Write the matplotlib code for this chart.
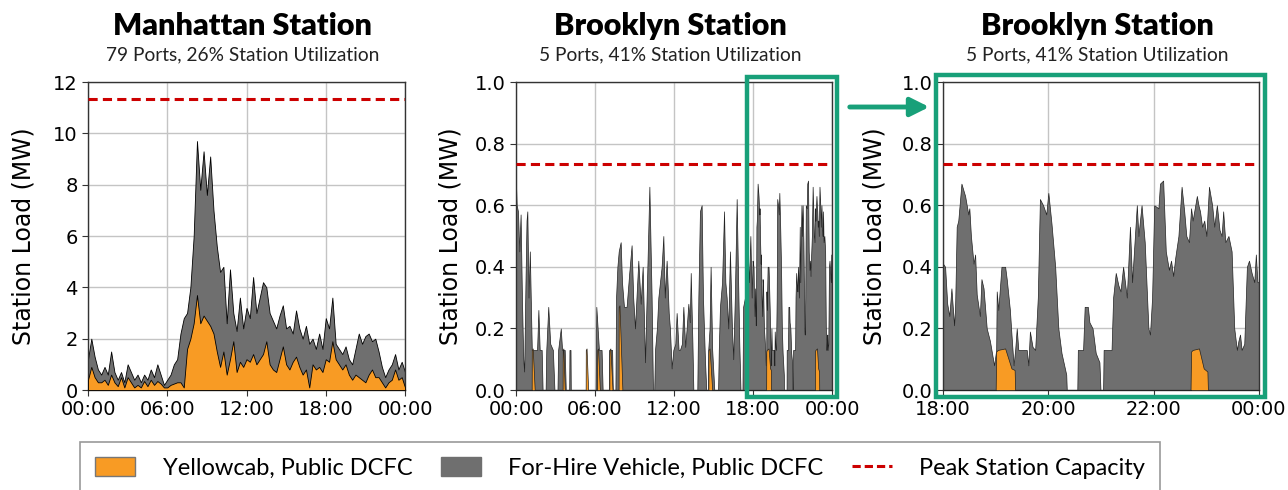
import numpy as np
import matplotlib.pyplot as plt
from matplotlib.patches import Rectangle, FancyArrowPatch, Patch
from matplotlib.lines import Line2D

ORANGE = '#f89b24'
GRAY = '#6f6f6f'
RED = '#cc0000'
GREEN = '#18a079'

# Manhattan station, 15-minute load readings (MW)
manhattan_hours = np.arange(0, 24.01, 0.25)
manhattan_total = [
    1.2, 2.0, 1.3, 0.8, 0.6, 0.9, 0.6, 1.5, 0.7, 0.4, 0.7, 0.3,
    1.0, 0.7, 0.4, 0.6, 0.3, 0.6, 0.4, 0.8, 0.5, 1.0, 0.6, 0.2,
    0.4, 0.6, 1.0, 1.2, 2.2, 2.8, 3.0, 4.0, 6.0, 9.7, 7.8, 9.3,
    7.6, 9.1, 7.0, 5.6, 4.6, 4.8, 2.6, 4.7, 3.0, 2.3, 3.6, 2.4,
    3.2, 2.8, 4.4, 3.0, 3.6, 4.2, 4.0, 3.0, 2.7, 2.4, 2.9, 3.3,
    2.4, 2.5, 2.2, 3.1, 2.4, 2.0, 2.5, 1.8, 2.0, 1.6, 2.2, 1.6,
    2.8, 2.4, 3.6, 1.8, 1.6, 1.4, 1.7, 1.2, 1.0, 1.6, 2.2, 1.8,
    2.1, 2.2, 1.9, 2.0, 1.5, 0.9, 0.5, 0.8, 1.0, 1.4, 0.8, 1.1,
    0.7]
manhattan_yellow = [
    0.4, 0.9, 0.5, 0.3, 0.3, 0.4, 0.2, 0.6, 0.3, 0.15, 0.5, 0.1,
    0.5, 0.3, 0.1, 0.2, 0.1, 0.35, 0.15, 0.4, 0.2, 0.35, 0.25, 0.1,
    0.1, 0.2, 0.25, 0.3, 0.3, 0.1, 1.6, 2.0, 2.6, 3.7, 2.6, 2.9,
    2.7, 2.5, 2.2, 1.5, 0.9, 1.5, 0.6, 1.2, 1.9, 0.7, 1.1, 0.9,
    1.2, 1.1, 1.4, 1.0, 1.2, 1.4, 1.9, 1.0, 0.8, 0.7, 1.2, 1.7,
    1.0, 0.8, 1.1, 1.3, 0.9, 0.6, 0.8, 0.1, 1.0, 0.8, 0.9, 0.7,
    1.2, 1.1, 1.9, 1.2, 1.0, 0.8, 1.0, 0.6, 0.4, 0.6, 0.5, 0.4,
    0.3, 0.6, 0.8, 0.5, 0.5, 0.3, 0.1, 0.3, 0.4, 0.8, 0.4, 0.5,
    0.1]
manhattan_capacity = 11.35

# Brooklyn station, total load at irregular times (hours, MW)
brooklyn_hours = [
    0.00, 0.05, 0.15, 0.25, 0.35, 0.45, 0.55, 0.62, 0.72, 0.80, 0.86, 0.95,
    1.05, 1.12, 1.20, 1.45, 1.60, 1.70, 1.80, 1.95, 2.02, 2.25, 2.30, 2.45,
    2.60, 2.80, 2.92, 3.15, 3.20, 3.40, 3.50, 3.70, 3.78, 4.04, 4.06, 4.14,
    4.16, 6.05, 6.10, 6.20, 6.30, 6.50, 6.58, 7.05, 7.08, 7.30, 7.35, 7.55,
    7.60, 7.70, 7.80, 7.95, 8.05, 8.20, 8.40, 8.60, 8.78, 8.90, 9.04, 9.15,
    9.29, 9.47, 9.62, 9.80, 9.95, 10.13, 10.30, 10.40, 10.50, 10.56, 10.70, 10.81,
    11.06, 11.19, 11.30, 11.44, 11.60, 11.69, 11.82, 11.95, 12.10, 12.20, 12.35, 12.45,
    12.60, 12.71, 12.85, 12.96, 13.09, 13.20, 13.27, 13.40, 13.47, 13.77, 13.85, 13.97,
    14.10, 14.20, 14.35, 14.45, 14.58, 14.60, 14.70, 14.78, 14.90, 15.00, 15.06, 15.35,
    15.40, 15.49, 15.65, 15.80, 15.90, 16.00, 16.12, 16.25, 16.40, 16.50, 16.62, 16.76,
    16.85, 16.96, 17.05, 17.20, 17.25, 17.39, 17.50, 17.60, 17.70, 17.80, 17.90, 17.97,
    18.00, 18.04, 18.08, 18.12, 18.16, 18.21, 18.23, 18.26, 18.29, 18.35, 18.42, 18.48,
    18.50, 18.53, 18.58, 18.61, 18.64, 18.70, 18.73, 18.77, 18.83, 18.89, 18.97, 19.01,
    19.02, 19.05, 19.11, 19.18, 19.21, 19.27, 19.30, 19.34, 19.37, 19.40, 19.43, 19.49,
    19.59, 19.62, 19.65, 19.70, 19.75, 19.80, 19.84, 19.90, 19.96, 20.00, 20.06, 20.13,
    20.19, 20.25, 20.34, 20.35, 20.55, 20.56, 20.66, 20.69, 20.75, 20.78, 20.84, 20.90,
    20.97, 20.99, 21.04, 21.05, 21.20, 21.23, 21.28, 21.33, 21.37, 21.42, 21.49, 21.55,
    21.59, 21.68, 21.71, 21.77, 21.83, 21.90, 21.93, 21.97, 22.01, 22.09, 22.12, 22.18,
    22.23, 22.29, 22.33, 22.37, 22.41, 22.47, 22.53, 22.58, 22.62, 22.67, 22.71, 22.74,
    22.77, 22.82, 22.85, 22.88, 22.92, 22.96, 23.00, 23.05, 23.11, 23.15, 23.20, 23.25,
    23.29, 23.32, 23.36, 23.42, 23.48, 23.53, 23.58, 23.61, 23.64, 23.67, 23.72, 23.77,
    23.81, 23.86, 23.91, 23.94, 23.97, 24.00]
brooklyn_total = [
    0.67, 0.60, 0.58, 0.45, 0.57, 0.30, 0.10, 0.06, 0.35, 0.55, 0.58, 0.30,
    0.45, 0.30, 0.13, 0.13, 0.13, 0.26, 0.13, 0.13, 0.00, 0.00, 0.13, 0.27,
    0.15, 0.13, 0.00, 0.00, 0.13, 0.20, 0.13, 0.13, 0.00, 0.00, 0.13, 0.13,
    0.00, 0.00, 0.27, 0.20, 0.13, 0.13, 0.00, 0.00, 0.13, 0.13, 0.00, 0.00,
    0.30, 0.40, 0.45, 0.48, 0.35, 0.27, 0.27, 0.38, 0.47, 0.30, 0.20, 0.30,
    0.42, 0.28, 0.40, 0.09, 0.35, 0.66, 0.30, 0.00, 0.00, 0.13, 0.20, 0.30,
    0.40, 0.50, 0.30, 0.42, 0.25, 0.20, 0.07, 0.13, 0.15, 0.25, 0.13, 0.13,
    0.15, 0.27, 0.14, 0.20, 0.28, 0.22, 0.38, 0.15, 0.00, 0.00, 0.30, 0.58,
    0.60, 0.30, 0.10, 0.00, 0.00, 0.13, 0.20, 0.40, 0.13, 0.05, 0.00, 0.00,
    0.13, 0.27, 0.35, 0.58, 0.35, 0.30, 0.20, 0.45, 0.20, 0.10, 0.30, 0.62,
    0.40, 0.15, 0.00, 0.00, 0.27, 0.30, 0.20, 0.45, 0.35, 0.50, 0.30, 0.42,
    0.41, 0.40, 0.28, 0.24, 0.33, 0.21, 0.27, 0.53, 0.55, 0.67, 0.63, 0.57,
    0.59, 0.50, 0.41, 0.44, 0.31, 0.24, 0.36, 0.33, 0.20, 0.16, 0.08, 0.13,
    0.32, 0.26, 0.40, 0.40, 0.36, 0.26, 0.18, 0.08, 0.13, 0.20, 0.13, 0.13,
    0.13, 0.08, 0.19, 0.14, 0.13, 0.30, 0.62, 0.60, 0.57, 0.64, 0.54, 0.40,
    0.20, 0.12, 0.05, 0.00, 0.00, 0.13, 0.13, 0.27, 0.27, 0.22, 0.20, 0.12,
    0.09, 0.00, 0.00, 0.13, 0.13, 0.30, 0.38, 0.34, 0.32, 0.40, 0.30, 0.53,
    0.35, 0.60, 0.50, 0.60, 0.48, 0.20, 0.18, 0.30, 0.60, 0.59, 0.67, 0.68,
    0.45, 0.39, 0.42, 0.37, 0.43, 0.50, 0.66, 0.58, 0.50, 0.48, 0.59, 0.55,
    0.58, 0.63, 0.60, 0.58, 0.53, 0.55, 0.50, 0.66, 0.60, 0.53, 0.60, 0.52,
    0.50, 0.58, 0.48, 0.50, 0.45, 0.20, 0.13, 0.16, 0.18, 0.13, 0.15, 0.40,
    0.42, 0.38, 0.35, 0.44, 0.35, 0.35]

# Brooklyn yellowcab sessions (hours, MW)
yellow_hours = [
    0.00, 1.19, 1.20, 1.27, 1.42, 3.54, 3.55, 3.60, 3.70, 5.29, 5.30, 5.36,
    5.48, 6.16, 6.17, 6.23, 6.37, 7.09, 7.10, 7.17, 7.33, 7.79, 7.80, 7.86,
    8.08, 14.61, 14.62, 14.70, 14.90, 19.00, 19.01, 19.04, 19.18, 19.30, 19.36, 19.37,
    22.70, 22.71, 22.74, 22.86, 22.95, 23.02, 23.03, 24.00]
yellow_load = [
    0.0, 0.0, 0.13, 0.135, 0.0, 0.0, 0.13, 0.135, 0.0, 0.0, 0.13, 0.135,
    0.0, 0.0, 0.13, 0.135, 0.0, 0.0, 0.13, 0.135, 0.0, 0.0, 0.27, 0.275,
    0.0, 0.0, 0.13, 0.135, 0.0, 0.0, 0.125, 0.13, 0.135, 0.07, 0.065, 0.0,
    0.0, 0.125, 0.13, 0.135, 0.07, 0.06, 0.0, 0.0]
brooklyn_capacity = 0.733

day_ticks = [0, 6, 12, 18, 24]
day_labels = ['00:00', '06:00', '12:00', '18:00', '00:00']
evening_ticks = [18, 20, 22, 24]
evening_labels = ['18:00', '20:00', '22:00', '00:00']

plt.rcParams['font.family'] = 'DejaVu Sans'

fig = plt.figure(figsize=(12.88, 4.9), dpi=100)
W, H = 1288, 490


def add_axes(left, right, top=82, bottom=390):
    return fig.add_axes([left / W, 1 - bottom / H, (right - left) / W, (bottom - top) / H])


def style_axes(ax, xlim, xticks, xlabels, ylim, yticks, yfmt, label_x):
    ax.set_xlim(*xlim)
    ax.set_ylim(*ylim)
    ax.set_xticks(xticks)
    ax.set_xticklabels(xlabels)
    ax.set_yticks(yticks)
    ax.set_yticklabels([yfmt.format(v) for v in yticks])
    ax.tick_params(labelsize=14, length=4, width=0.8, color='#333333')
    ax.grid(True, color='#c4c4c4', linewidth=1.0)
    ax.set_axisbelow(True)
    for s in ax.spines.values():
        s.set_color('#333333')
        s.set_linewidth(1.0)
    ax.set_ylabel('Station Load (MW)', fontsize=17)
    ax.yaxis.set_label_coords(label_x, 0.5)


def titles(ax, title, subtitle):
    bb = ax.get_position()
    cx = bb.x0 + bb.width / 2 - 4 / W
    fig.text(cx, 1 - 35 / H, title, ha='center', va='baseline', fontsize=22,
             fontweight='heavy', family=['Lato', 'DejaVu Sans'])
    fig.text(cx, 1 - 60 / H, subtitle, ha='center', va='baseline', fontsize=13.8,
             family=['Lato', 'DejaVu Sans'], color='#222222')


# Manhattan
ax1 = add_axes(88, 405)
ax1.fill_between(manhattan_hours, 0, manhattan_total, facecolor=GRAY,
                 edgecolor='black', linewidth=0.6, zorder=2)
ax1.fill_between(manhattan_hours, 0, manhattan_yellow, facecolor=ORANGE,
                 edgecolor='black', linewidth=0.6, zorder=3)
ax1.axhline(manhattan_capacity, color=RED, linestyle=(0, (3, 1.7)), linewidth=2.2, zorder=4)
style_axes(ax1, (0, 24), day_ticks, day_labels, (0, 12), [0, 2, 4, 6, 8, 10, 12], '{:d}', -0.167)
titles(ax1, 'Manhattan Station', '79 Ports, 26% Station Utilization')

# Brooklyn, full day and evening close-up
ax2 = add_axes(516, 832)
ax3 = add_axes(943, 1259)
for ax in (ax2, ax3):
    ax.fill_between(brooklyn_hours, 0, brooklyn_total, facecolor=GRAY,
                    edgecolor='#222222', linewidth=0.5, zorder=2)
    ax.fill_between(yellow_hours, 0, yellow_load, facecolor=ORANGE,
                    edgecolor='#222222', linewidth=0.5, zorder=3)
    ax.axhline(brooklyn_capacity, color=RED, linestyle=(0, (3, 1.7)), linewidth=2.2, zorder=4)
bk_ticks = [0.0, 0.2, 0.4, 0.6, 0.8, 1.0]
style_axes(ax2, (0, 24), day_ticks, day_labels, (0, 1), bk_ticks, '{:.1f}', -0.168)
style_axes(ax3, (18, 24), evening_ticks, evening_labels, (0, 1), bk_ticks, '{:.1f}', -0.178)
titles(ax2, 'Brooklyn Station', '5 Ports, 41% Station Utilization')
titles(ax3, 'Brooklyn Station', '5 Ports, 41% Station Utilization')

# zoom boxes and arrow
fig.patches.append(Rectangle((747 / W, 1 - 397 / H), 90 / W, 320 / H, transform=fig.transFigure,
                             fill=False, edgecolor=GREEN, linewidth=3.2, zorder=10))
fig.patches.append(Rectangle((936 / W, 1 - 397 / H), 329 / W, 322 / H, transform=fig.transFigure,
                             fill=False, edgecolor=GREEN, linewidth=3.2, zorder=10))
fig.patches.append(FancyArrowPatch((847 / W, 1 - 107 / H), (932 / W, 1 - 107 / H),
                                   transform=fig.transFigure, arrowstyle='-|>',
                                   mutation_scale=28, color=GREEN, linewidth=3.5, zorder=10))

# legend
handles = [Patch(facecolor=ORANGE, edgecolor='#777777'),
           Patch(facecolor=GRAY, edgecolor=GRAY),
           Line2D([], [], color=RED, linestyle=(0, (2.7, 1.3)), linewidth=2.2)]
labels = ['Yellowcab, Public DCFC', 'For-Hire Vehicle, Public DCFC', 'Peak Station Capacity']
leg = fig.legend(handles, labels, ncol=3, loc='center', bbox_to_anchor=(620 / W, 1 - 468 / H),
                 frameon=True, fancybox=False, edgecolor='#999999', framealpha=1,
                 handlelength=1.7, handleheight=0.85, handletextpad=1.15, columnspacing=1.2,
                 borderpad=0.65, prop={'family': ['Lato', 'DejaVu Sans'], 'size': 17})
leg.get_frame().set_linewidth(1.2)

fig.savefig('out.png', dpi=100)
